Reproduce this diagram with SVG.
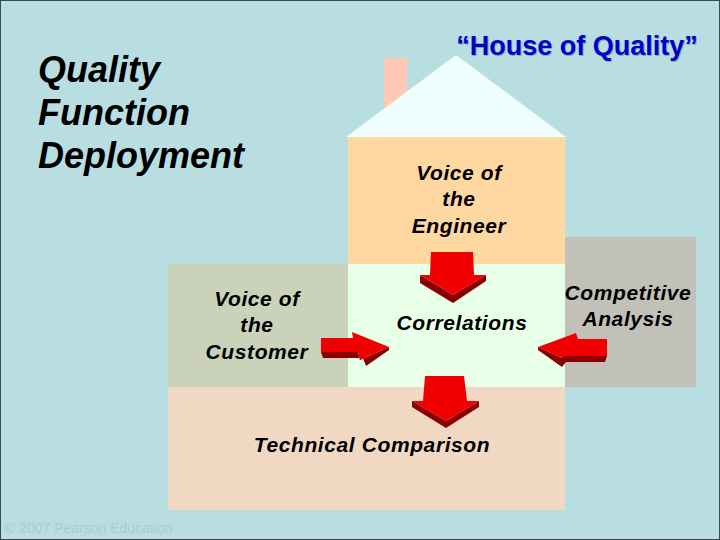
<svg xmlns="http://www.w3.org/2000/svg" width="720" height="540" viewBox="0 0 720 540">
<style>
.t{font-family:"Liberation Sans",Arial,sans-serif;font-weight:bold;font-style:italic;font-size:21px;letter-spacing:0.6px;fill:#000;text-anchor:middle}
.h{font-family:"Liberation Sans",Arial,sans-serif;font-weight:bold;font-style:italic;font-size:36px}
.front{fill:#F00000}
.dark{fill:#8A0000}
</style>
<rect x="0" y="0" width="720" height="540" fill="#B9DEE2" stroke="#3a4a4c" stroke-width="2"/>
<text class="h" x="38" y="82">Quality</text>
<text class="h" x="38" y="125">Function</text>
<text class="h" x="38" y="168">Deployment</text>
<text x="577" y="55" font-family="Liberation Sans,Arial,sans-serif" font-weight="bold" font-size="27" fill="#8aa" text-anchor="middle" dx="1" dy="1">“House of Quality”</text>
<text x="577" y="55" font-family="Liberation Sans,Arial,sans-serif" font-weight="bold" font-size="27" fill="#0000CC" text-anchor="middle">“House of Quality”</text>
<g id="chimney"><rect x="384" y="58" width="23" height="50" fill="#FFC8B4"/></g>
<g id="roof"><polygon points="456,55 566,137 346,137" fill="#F0FEFE"/></g>
<g id="engineer"><rect x="348" y="137" width="217" height="127" fill="#FFD7A0"/>
<text class="t" x="459" y="180">Voice of</text><text class="t" x="459" y="206">the</text><text class="t" x="459" y="233">Engineer</text></g>
<g id="competitive"><rect x="565" y="237" width="131" height="150" fill="#C1C1B8"/>
<text class="t" x="628" y="300">Competitive</text><text class="t" x="628" y="326">Analysis</text></g>
<g id="customer"><rect x="168" y="264" width="180" height="123" fill="#CAD2B9"/>
<text class="t" x="257" y="306">Voice of</text><text class="t" x="257" y="332">the</text><text class="t" x="257" y="359">Customer</text></g>
<g id="correlations"><rect x="348" y="264" width="217" height="123" fill="#E8FFE8"/>
<text class="t" x="462" y="330">Correlations</text></g>
<g id="technical"><rect x="168" y="387" width="397" height="123" fill="#F0D8C2"/>
<text class="t" x="372" y="452">Technical Comparison</text></g>
<g id="connectors">
<polygon class="dark" points="420,275 453,295 486,275 486,281 453,303 420,283"/>
<polygon class="front" points="431,252 473,252 474,275 486,275 453,295 420,275 430,275"/>
<polygon class="dark" points="321,352 358,352 360,360 389,347 389,350 366,366 363,358 323,358"/>
<polygon class="front" points="321,338 353,338 352,332 389,347 360,360 358,352 321,352"/>
<polygon class="dark" points="538,347 562,358 563,356 607,356 605,362 566,362 562,367 538,350"/>
<polygon class="front" points="607,339 578,339 576,333 538,347 562,358 563,356 607,356"/>
<polygon class="dark" points="412,401 446,421 479,401 479,407 446,428 412,407"/>
<polygon class="front" points="425,376 464,376 467,401 479,401 446,421 412,401 423,401"/>
</g>
<text x="5" y="533" font-family="Liberation Sans,Arial,sans-serif" font-size="14" fill="#A9CDCC">© 2007 Pearson Education</text>
</svg>
